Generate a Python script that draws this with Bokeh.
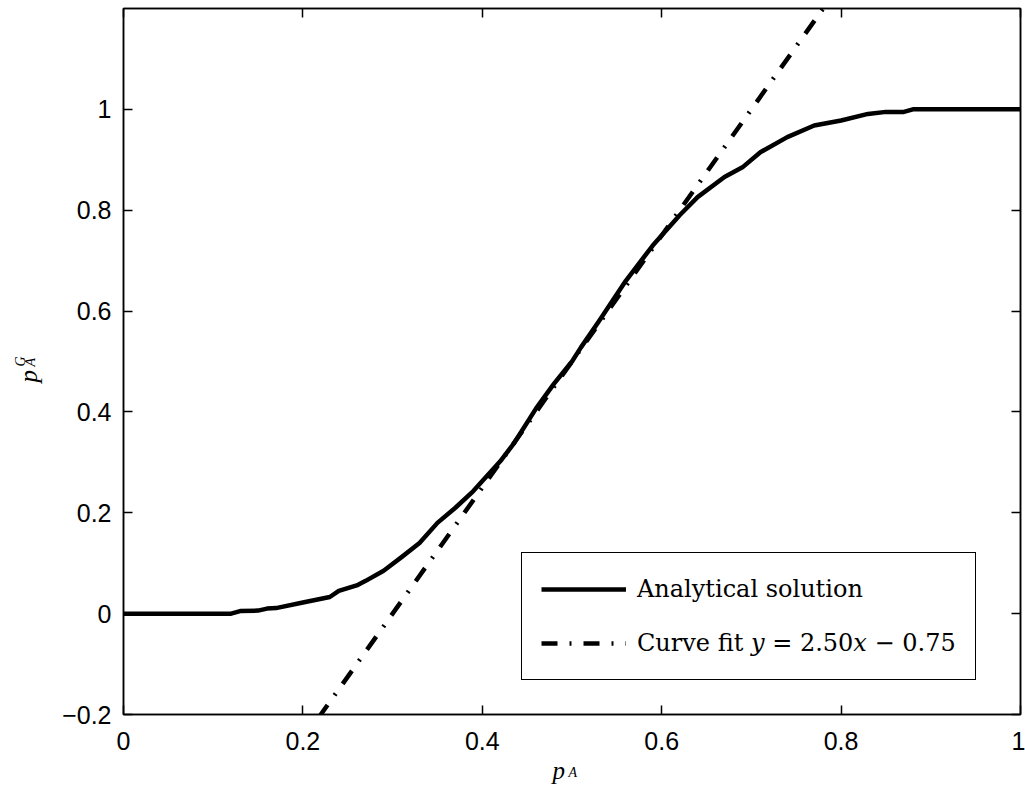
import math
from bokeh.plotting import figure
from bokeh.models import Range1d, LinearAxis, FixedTicker, Legend, LegendItem, Label
from bokeh.embed import file_html
from bokeh.resources import INLINE

# ---- data ----
pa = [0.00, 0.12, 0.13, 0.15, 0.16, 0.17, 0.20, 0.23, 0.24, 0.26, 0.27, 0.29,
      0.31, 0.33, 0.35, 0.37, 0.39, 0.42, 0.435, 0.46, 0.48, 0.50, 0.51, 0.53,
      0.56, 0.59, 0.62, 0.64, 0.67, 0.69, 0.71, 0.74, 0.77, 0.80, 0.83, 0.85,
      0.87, 0.88, 1.00]
pag = [0.000, 0.000, 0.005, 0.006, 0.010, 0.011, 0.022, 0.033, 0.045, 0.056, 0.065, 0.085,
       0.112, 0.140, 0.180, 0.210, 0.243, 0.302, 0.337, 0.407, 0.456, 0.500, 0.528, 0.580,
       0.660, 0.730, 0.790, 0.826, 0.866, 0.885, 0.915, 0.945, 0.968, 0.978, 0.991, 0.995,
       0.995, 1.000, 1.000]

fit_x = [0.0, 1.0]
fit_y = [-0.75, 1.75]

x_ticks = [0, 0.2, 0.4, 0.6, 0.8, 1]
x_tick_labels = ["0", "0.2", "0.4", "0.6", "0.8", "1"]
y_ticks = [-0.2, 0, 0.2, 0.4, 0.6, 0.8, 1]
y_tick_labels = ["\u22120.2", "0", "0.2", "0.4", "0.6", "0.8", "1"]

legend_labels = ["Analytical solution", "Curve fit \U0001D466 = 2.50\U0001D465 \u2212 0.75"]

TICK_FONT = "Liberation Sans"
SERIF = "DejaVu Serif"
LABEL_SERIF = "Liberation Serif"

p = figure(width=1025, height=787,
           x_range=Range1d(0, 1), y_range=Range1d(-0.2, 1.2),
           output_backend="svg", toolbar_location=None,
           min_border_left=123, min_border_right=5,
           min_border_top=8, min_border_bottom=73)
p.background_fill_color = "white"
p.border_fill_color = "white"
p.outline_line_color = "black"
p.outline_line_width = 1.5
p.xgrid.visible = False
p.ygrid.visible = False

r1 = p.line(pa, pag, line_color="black", line_width=4.5, line_join="round")
r2 = p.line(fit_x, fit_y, line_color="black", line_width=4.5, line_dash="16 12 2 12")


def style_axis(ax, ticks, labels, show_labels):
    ax.ticker = FixedTicker(ticks=ticks)
    ax.minor_tick_line_color = None
    ax.major_tick_in = 9
    ax.major_tick_out = 0
    ax.major_tick_line_color = "black"
    ax.major_tick_line_width = 1.5
    ax.axis_line_color = "black"
    ax.axis_line_width = 1.5
    if show_labels:
        ax.major_label_overrides = {t: l for t, l in zip(ticks, labels)}
        ax.major_label_text_font = TICK_FONT
        ax.major_label_text_font_size = "25px"
        ax.major_label_text_color = "black"
    else:
        ax.major_label_overrides = {t: "" for t in ticks}
        ax.major_label_text_font_size = "1px"
        ax.major_label_text_color = None
        ax.major_label_standoff = 0


style_axis(p.xaxis[0], x_ticks, x_tick_labels, True)
p.xaxis[0].major_label_standoff = 17
style_axis(p.yaxis[0], y_ticks, y_tick_labels, True)
p.yaxis[0].major_label_standoff = 12

top_ax = LinearAxis()
style_axis(top_ax, x_ticks, x_tick_labels, False)
p.add_layout(top_ax, "above")
right_ax = LinearAxis()
style_axis(right_ax, y_ticks, y_tick_labels, False)
p.add_layout(right_ax, "right")

legend = Legend(items=[LegendItem(label=legend_labels[0], renderers=[r1]),
                       LegendItem(label=legend_labels[1], renderers=[r2])],
                location=(398, 34))
legend.border_line_color = "black"
legend.border_line_alpha = 1.0
legend.border_line_width = 1.5
legend.background_fill_color = "white"
legend.background_fill_alpha = 1
legend.padding = 19
legend.spacing = 20
legend.margin = 0
legend.glyph_width = 85
legend.glyph_height = 34
legend.label_height = 34
legend.label_standoff = 11
legend.label_text_font = SERIF
legend.label_text_font_size = "24px"
legend.label_text_color = "black"
p.add_layout(legend)


def title_label(x, y, text, size, side, angle=0.0):
    # placed in a side panel so that it is not clipped to the plot frame;
    # its position is given in plot coordinates (outside the axes box)
    p.add_layout(Label(x=x, y=y, text=text, angle=angle,
                       text_font=LABEL_SERIF, text_font_style="italic",
                       text_font_size=size, text_color="black",
                       text_baseline="alphabetic", text_align="left"), side)


# x-axis title p_A
title_label(0.4783, -0.3104, "p", "25px", "left")
title_label(0.4961, -0.3154, "A", "14px", "left")
# y-axis title p_A^G (rotated)
title_label(-0.1060, 0.4583, "p", "25px", "below", math.pi / 2)
title_label(-0.1032, 0.4901, "A", "14px", "below", math.pi / 2)
title_label(-0.1149, 0.4901, "G", "14px", "left", math.pi / 2)

open("out.html", "w").write(file_html(p, INLINE))
